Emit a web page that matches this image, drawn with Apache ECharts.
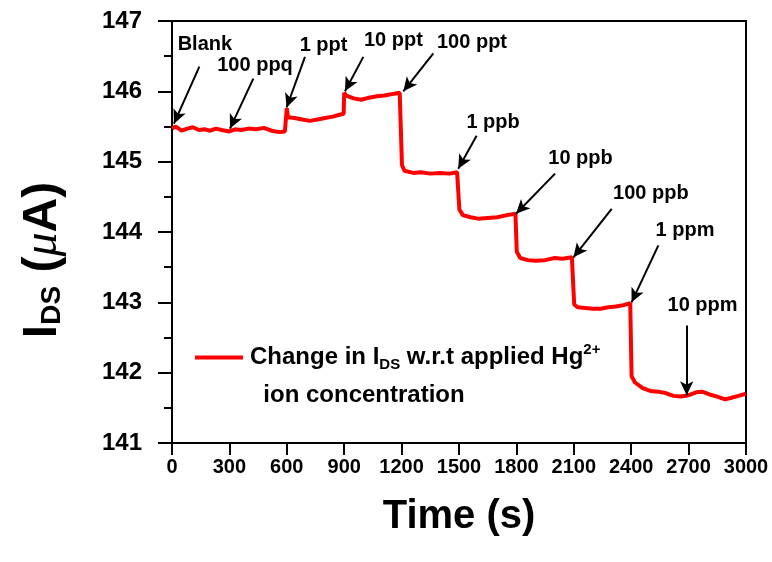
<!DOCTYPE html>
<html><head><meta charset="utf-8">
<script src="https://cdn.jsdelivr.net/npm/echarts@6/dist/echarts.min.js"></script>
<style>html,body{margin:0;padding:0;background:#fff}#c{width:772px;height:562px}</style>
</head><body><div id="c"></div>
<script>
// Time (s)
const timeS = [0,20,50,80,110,140,170,200,230,260,300,330,360,400,440,480,520,560,590,598,
  600,606,640,680,720,760,800,840,880,897,
  900,910,950,990,1030,1070,1110,1150,1190,1198,
  1202,1215,1260,1300,1350,1400,1450,1490,1498,
  1502,1520,1560,1600,1650,1700,1750,1795,
  1802,1820,1860,1900,1950,2000,2040,2090,2098,
  2102,2120,2160,2200,2240,2280,2320,2360,2395,
  2402,2420,2460,2500,2540,2580,2620,2660,2700,2740,2770,2810,2850,2890,2920,2960,3000];
// I_DS (µA)
const idsUA = [145.47,145.50,145.44,145.47,145.49,145.45,145.46,145.44,145.47,145.45,145.43,145.46,145.45,145.47,145.46,145.48,145.44,145.42,145.43,145.44,
  145.76,145.63,145.62,145.60,145.58,145.60,145.62,145.64,145.67,145.68,
  145.98,145.94,145.90,145.88,145.91,145.93,145.94,145.96,145.98,145.99,
  144.95,144.87,144.84,144.85,144.83,144.84,144.83,144.85,144.85,
  144.32,144.24,144.21,144.19,144.20,144.21,144.24,144.26,
  143.72,143.63,143.60,143.59,143.60,143.63,143.62,143.64,143.63,
  142.97,142.93,142.92,142.91,142.91,142.93,142.94,142.96,142.99,
  141.95,141.86,141.78,141.74,141.73,141.71,141.67,141.66,141.68,141.72,141.73,141.69,141.66,141.62,141.64,141.67,141.70];

const xTicks = [0,300,600,900,1200,1500,1800,2100,2400,2700,3000];
const yTicks = [141,142,143,144,145,146,147];

const seriesName = 'Change in IDS w.r.t applied Hg2+ ion concentration';
const annLabels = ['Blank','100 ppq','1 ppt','10 ppt','100 ppt','1 ppb','10 ppb','100 ppb','1 ppm','10 ppm'];
const annTextAt = [[172,146.67],[434,146.37],[792,146.65],[1157,146.72],[1568,146.70],[1678,145.56],[2135,145.05],[2503,144.55],[2681,144.02],[2773,142.96]];
const arrowFrom = [[143,146.35],[425,146.18],[695,146.49],[1000,146.49],[1366,146.54],[1592,145.37],[2002,144.83],[2298,144.33],[2542,143.81],[2690,142.67]];
const arrowTo   = [[10,145.54],[303,145.47],[599,145.77],[904,146.0],[1209,146.0],[1496,144.90],[1798,144.26],[2098,143.64],[2402,143.0],[2690,141.68]];

const FONT = '"Liberation Sans", Arial, sans-serif';
const chart = echarts.init(document.getElementById('c'), null, {renderer:'canvas'});
const lineData = timeS.map((t,i)=>[t, idsUA[i]]);

chart.setOption({
  animation:false,
  backgroundColor:'#fff',
  grid:{left:172, right:26, top:21, bottom:119, show:true, borderColor:'#000', borderWidth:2, backgroundColor:'transparent'},
  legend:{
    data:[seriesName], left:195, top:342, padding:0,
    icon:'rect', itemWidth:48, itemHeight:4, selectedMode:false,
    formatter:()=> '{a|Change in I}{sub|DS}{a| w.r.t applied Hg}{sup|2+}\n{a|  ion concentration}',
    textStyle:{padding:[38,0,0,2], color:'#000', fontFamily:FONT,
      rich:{
        a:{fontSize:24, fontWeight:'bold', color:'#000', lineHeight:38, fontFamily:FONT},
        sub:{fontSize:15, fontWeight:'bold', color:'#000', padding:[14,0,0,0], fontFamily:FONT},
        sup:{fontSize:15, fontWeight:'bold', color:'#000', padding:[0,0,16,0], fontFamily:FONT}
      }}
  },
  xAxis:{
    type:'value', min:xTicks[0], max:xTicks[xTicks.length-1], interval:xTicks[1]-xTicks[0],
    axisLine:{show:true, onZero:false, lineStyle:{color:'#000', width:2}},
    axisTick:{show:true, inside:false, length:12, lineStyle:{color:'#000', width:2}},
    splitLine:{show:false},
    axisLabel:{margin:14, fontSize:20, fontWeight:'bold', color:'#000', fontFamily:FONT,
      showMinLabel:true, showMaxLabel:true, hideOverlap:false, formatter:(v)=>String(v)},
    name:'Time (s)', nameLocation:'middle', nameGap:54,
    nameTextStyle:{fontSize:40, fontWeight:'bold', color:'#000', fontFamily:FONT}
  },
  yAxis:{
    type:'value', min:yTicks[0], max:yTicks[yTicks.length-1], interval:yTicks[1]-yTicks[0],
    axisLine:{show:true, onZero:false, lineStyle:{color:'#000', width:2}},
    axisTick:{show:true, inside:false, length:14, lineStyle:{color:'#000', width:2}},
    minorTick:{show:true, splitNumber:2, length:8, lineStyle:{color:'#000', width:2}},
    splitLine:{show:false},
    axisLabel:{margin:30, fontSize:24, fontWeight:'bold', color:'#000', fontFamily:FONT},
    name:'{big|I}{sub|DS}{big| (}{mu|μ}{big|A)}', nameLocation:'middle', nameGap:105, nameRotate:90,
    nameTextStyle:{padding:[0,56,0,0], color:'#000',
      rich:{
        big:{fontSize:48, fontWeight:'bold', color:'#000', fontFamily:FONT},
        sub:{fontSize:28, fontWeight:'bold', color:'#000', padding:[18,0,0,0], fontFamily:FONT},
        mu:{fontSize:48, fontWeight:'normal', fontStyle:'italic', color:'#000', fontFamily:'"Liberation Serif", serif'}
      }}
  },
  series:[{
    name:seriesName, type:'line', data:lineData, showSymbol:false, symbol:'none',
    lineStyle:{color:'#ff0000', width:4}, itemStyle:{color:'#ff0000'},
    markLine:{
      silent:true, animation:false, symbol:['none','arrow'], symbolSize:[10,14],
      lineStyle:{color:'#000', width:2, type:'solid'}, label:{show:false},
      emphasis:{disabled:true},
      data: arrowFrom.map((p,i)=>[{coord:p},{coord:arrowTo[i]}])
    },
    markPoint:{
      silent:true, animation:false, symbol:'rect', symbolSize:1,
      itemStyle:{color:'rgba(0,0,0,0)'},
      label:{show:true, position:'inside', formatter:'{b}', color:'#000', fontSize:20, fontWeight:'bold', fontFamily:FONT},
      data: annLabels.map((n,i)=>({name:n, coord:annTextAt[i]}))
    }
  }]
});
</script></body></html>
